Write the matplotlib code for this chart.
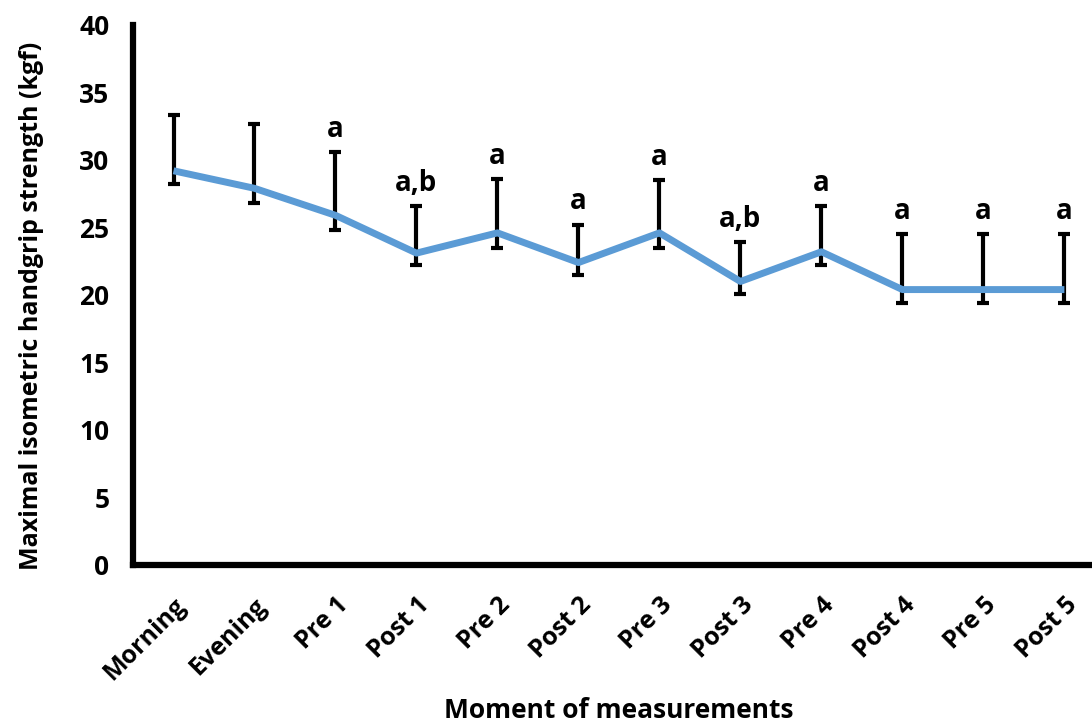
import numpy as np
import matplotlib.pyplot as plt

plt.rcParams['font.family'] = ['Open Sans', 'DejaVu Sans']

moments = ['Morning', 'Evening', 'Pre 1', 'Post 1', 'Pre 2', 'Post 2',
           'Pre 3', 'Post 3', 'Pre 4', 'Post 4', 'Pre 5', 'Post 5']
strength = [29.2, 27.9, 25.9, 23.1, 24.6, 22.4, 24.6, 21.0, 23.2, 20.4, 20.4, 20.4]
err_low = [1.0, 1.1, 1.1, 0.9, 1.1, 0.9, 1.1, 0.9, 1.0, 1.0, 1.0, 1.0]
err_high = [4.1, 4.8, 4.7, 3.5, 4.0, 2.8, 3.9, 2.9, 3.4, 4.1, 4.1, 4.1]
letters = ['', '', 'a', 'a,b', 'a', 'a', 'a', 'a,b', 'a', 'a', 'a', 'a']

fig = plt.figure(figsize=(10.92, 7.26), dpi=100)
ax = fig.add_axes([0.1218, 0.2218, 0.890, 0.7438])

x = np.arange(len(moments))
ax.errorbar(x, strength, yerr=[err_low, err_high], fmt='none', ecolor='black',
            elinewidth=3, capsize=4.5, capthick=3, zorder=2)
ax.plot(x, strength, color='#5B9BD5', lw=5, zorder=3, solid_capstyle='butt')

for xi, yi, eh, lab in zip(x, strength, err_high, letters):
    if lab:
        ax.annotate(lab, (xi, yi + eh), xytext=(0, 6), textcoords='offset points',
                    ha='center', va='bottom', fontsize=20, fontweight='bold')

ax.set_xlim(-0.5, 11.5)
ax.set_ylim(0, 40)
ax.set_yticks(range(0, 41, 5))
ax.set_xticks(x)
ax.set_xticklabels(moments, rotation=45, ha='right', rotation_mode='anchor')
ax.tick_params(length=0)
ax.tick_params(axis='y', pad=17, labelsize=19)
ax.tick_params(axis='x', pad=20, labelsize=18)
for lab in ax.get_xticklabels() + ax.get_yticklabels():
    lab.set_fontweight('bold')

for side in ['top', 'right']:
    ax.spines[side].set_visible(False)
for side in ['left', 'bottom']:
    ax.spines[side].set_linewidth(4.5)

ax.set_ylabel('Maximal isometric handgrip strength (kgf)', fontsize=18,
              fontweight='bold', va='center')
ax.yaxis.set_label_coords(-0.104, 0.48)
ax.set_xlabel('Moment of measurements', fontsize=19, fontweight='bold', labelpad=9)

fig.savefig('out.png', dpi=100)
